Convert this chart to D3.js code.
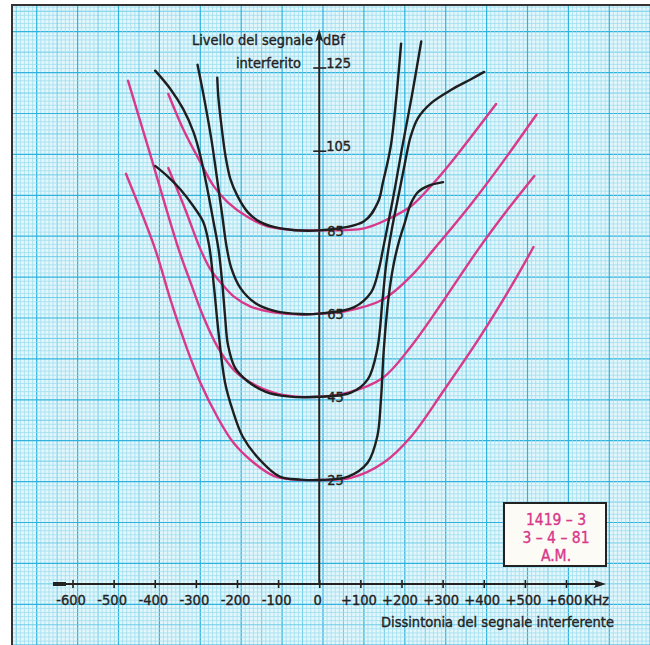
<!DOCTYPE html>
<html>
<head>
<meta charset="utf-8">
<script src="https://cdn.jsdelivr.net/npm/d3@7"></script>
<style>
  body { margin: 0; background: #fff; }
  svg text { font-family: "Liberation Sans Narrow", "DejaVu Sans Condensed", sans-serif; stroke: currentColor; stroke-width: 0.35px; }
</style>
</head>
<body>
<div id="chart"></div>
<script>
// detuning (kHz) / level (dBf)
const xTicks = [-600, -500, -400, -300, -200, -100, 0, 100, 200, 300, 400, 500, 600];
const yLabels = [25, 45, 65, 85];
const yTicked = [105, 125];

// magenta curves
const pink25 = [[-470, 98.6], [-399, 80.5], [-362, 68.4], [-321, 56.4], [-289, 48.4], [-248, 40.2], [-209, 34], [-160, 29.2], [-111, 26], [-62, 25.1], [0, 25], [77, 25.5], [157, 29.2], [223, 35.4], [304, 46.7], [387, 58.8], [467, 71.6], [521, 81]];
const pink45 = [[-465, 121], [-415, 104.6], [-342, 80.5], [-313, 72.5], [-282, 64.3], [-248, 57.1], [-209, 51.6], [-167, 48.4], [-111, 46], [-62, 45.1], [0, 45], [70, 46], [155, 49.6], [223, 57.1], [304, 68.4], [387, 80.5], [455, 89.6], [523, 98.1]];
const pink65 = [[-367, 100], [-326, 90.1], [-289, 80.5], [-265, 75.7], [-240, 72.5], [-209, 69.2], [-167, 66.7], [-111, 65.3], [-45, 64.8], [0, 65], [60, 65.5], [155, 68.4], [223, 74], [279, 80.5], [369, 91.3], [443, 101], [528, 112.8]];
const pink85 = [[-367, 117.8], [-331, 109.4], [-289, 101.4], [-257, 95.7], [-223, 91.8], [-174, 88.2], [-126, 86], [-62, 85.1], [0, 85], [109, 85.5], [167, 87.7], [223, 90.8], [272, 95.7], [321, 101.4], [430, 115.4]];

// black curves
const black25 = [[-399, 100.5], [-370, 98.1], [-338, 94.9], [-306, 90.8], [-282, 87], [-268, 81.5], [-256, 71.5], [-245, 60.5], [-229, 48.4], [-211, 41.9], [-186, 35.4], [-145, 29.9], [-96, 25.8], [-45, 25.1], [0, 25], [70, 25.8], [118, 29.2], [141, 35.4], [150, 44.3], [157, 56.4], [168, 68.4], [180, 76.4], [193, 82], [207, 86.5], [223, 91.5], [240, 94.2], [265, 95.7], [301, 96.6]];
const black45 = [[-399, 123.4], [-362, 119], [-331, 114.2], [-306, 108.7], [-289, 102.9], [-272, 94.9], [-257, 87], [-245, 80.5], [-236, 72.5], [-229, 64.3], [-222, 57.5], [-205, 52], [-175, 48.8], [-130, 46.2], [-77, 45.1], [0, 45], [77, 46], [118, 49.2], [141, 56.4], [154, 68.4], [163, 77], [176, 85], [193, 93.5], [208, 101], [222, 107.5], [240, 112], [272, 115.6], [321, 118.8], [370, 121.4], [401, 123.1]];
const black65 = [[-296, 124.8], [-279, 116.3], [-262, 106.7], [-248, 97.1], [-236, 88.7], [-226, 81.5], [-214, 76], [-192, 71.2], [-155, 67.5], [-107, 65.6], [-46, 64.9], [0, 65], [84, 66.5], [126, 70.1], [145, 75.7], [155, 80.5], [179, 92.5], [201, 104.6], [226, 117.8], [248, 130.4]];
const black85 = [[-248, 121.7], [-245, 116.6], [-236, 108.7], [-228, 102.9], [-216, 97.3], [-199, 93.3], [-174, 89.4], [-143, 87], [-94, 85.5], [0, 85], [109, 87.2], [143, 91.8], [155, 96.6], [174, 105.3], [187, 116.6], [199, 129.9]];

const pinkCurves = [pink25, pink45, pink65, pink85];
const blackCurves = [black25, black45, black65, black85];
const stampLines = ['1419 \u2013 3', '3 \u2013 4 \u2013 81', 'A.M.'];

const width = 650, height = 645;
const ink = '#222', magenta = '#d8398a';

const svg = d3.select('#chart').append('svg')
	.attr('width', width)
	.attr('height', height)
	.style('color', ink);

svg.append('rect').attr('width', width).attr('height', height).attr('fill', '#fff');

// graph paper
const paper = { x: 12, y: 5, w: 660, h: 660 };
svg.append('clipPath').attr('id', 'paper')
	.append('rect').attr('x', paper.x).attr('y', paper.y).attr('width', paper.w).attr('height', paper.h);

const grid = svg.append('g').attr('clip-path', 'url(#paper)');
grid.append('rect')
	.attr('x', paper.x).attr('y', paper.y).attr('width', paper.w).attr('height', paper.h)
	.attr('fill', '#e2f6fb');

const step = 40.9 / 10;
const lineStyle = (i) => (i == 0) ? ['#2fb3de', 1.2] : (i == 5) ? ['#62c8e6', 0.9] : ['#9adcee', 0.7];
for (let i = -10; i < 170; i++) {
	let [c, w] = lineStyle(((i % 10) + 10) % 10);
	let gx = 36.7 + i * step;
	grid.append('line').attr('x1', gx).attr('x2', gx).attr('y1', 0).attr('y2', height)
		.attr('stroke', c).attr('stroke-width', w);
	let gy = 31.7 + i * step;
	grid.append('line').attr('y1', gy).attr('y2', gy).attr('x1', 0).attr('x2', width)
		.attr('stroke', c).attr('stroke-width', w);
}
svg.append('rect')
	.attr('x', paper.x).attr('y', paper.y).attr('width', paper.w).attr('height', paper.h)
	.attr('fill', 'none').attr('stroke', '#333').attr('stroke-width', 2);

// scales
const x = d3.scaleLinear().domain([-600, 600]).range([72.5, 566]);
const y = d3.scaleLinear().domain([0, 125]).range([584, 64]);

const line = d3.line()
	.x((d) => x(d[0]))
	.y((d) => y(d[1]))
	.curve(d3.curveCatmullRom.alpha(0.5));

// x axis
const xAxis = d3.axisBottom(x)
	.tickValues(xTicks)
	.tickSize(4)
	.tickFormat((d) => d > 0 ? '+' + d : d < 0 ? '-' + (-d) : '0');

const gx = svg.append('g')
	.attr('transform', `translate(0, ${y(0)})`)
	.call(xAxis);
gx.select('.domain').remove();
gx.selectAll('.tick line').attr('y1', -4).attr('y2', 4).attr('stroke', ink).attr('stroke-width', 1.6);
gx.selectAll('.tick text')
	.attr('x', -2)
	.attr('y', 11).attr('dy', '0.71em')
	.attr('font-size', 14.5).attr('fill', ink)
	.attr('font-family', '"Liberation Sans Narrow", "DejaVu Sans Condensed", sans-serif');

svg.append('line')
	.attr('x1', 62).attr('x2', 598).attr('y1', y(0)).attr('y2', y(0))
	.attr('stroke', ink).attr('stroke-width', 2);
svg.append('line')
	.attr('x1', 53).attr('x2', 66).attr('y1', y(0)).attr('y2', y(0))
	.attr('stroke', ink).attr('stroke-width', 4);
svg.append('path')
	.attr('d', `M606,${y(0)} L594,${y(0) - 4} L596,${y(0)} L594,${y(0) + 4} Z`)
	.attr('fill', ink);

svg.append('text')
	.attr('x', 584).attr('y', 605)
	.attr('font-size', 14.5).attr('fill', ink)
	.text('KHz');
svg.append('text')
	.attr('x', 614).attr('y', 627)
	.attr('text-anchor', 'end')
	.attr('font-size', 14.5).attr('fill', ink)
	.text('Dissintonia del segnale interferente');

// y axis
svg.append('line')
	.attr('x1', x(0)).attr('x2', x(0)).attr('y1', y(0)).attr('y2', 34)
	.attr('stroke', ink).attr('stroke-width', 2);
svg.append('path')
	.attr('d', `M${x(0)},29 L${x(0) - 4},42 L${x(0)},39 L${x(0) + 4},42 Z`)
	.attr('fill', ink);

svg.append('text')
	.attr('x', 313).attr('y', 45)
	.attr('text-anchor', 'end')
	.attr('font-size', 14.5).attr('fill', ink)
	.text('Livello del segnale');
svg.append('text')
	.attr('x', 323).attr('y', 45)
	.attr('font-size', 14.5).attr('fill', ink)
	.text('dBf');
svg.append('text')
	.attr('x', 301).attr('y', 68)
	.attr('text-anchor', 'end')
	.attr('font-size', 14.5).attr('fill', ink)
	.text('interferito');

yTicked.forEach((v) => {
	svg.append('line')
		.attr('x1', x(0) - 6).attr('x2', x(0) + 7)
		.attr('y1', y(v) + 4).attr('y2', y(v) + 4)
		.attr('stroke', ink).attr('stroke-width', 1.6);
	svg.append('text')
		.attr('x', x(0) + 7).attr('y', y(v) + 4)
		.attr('font-size', 14.5).attr('fill', ink)
		.text(v);
});

// curves
svg.append('g').selectAll('path')
	.data(pinkCurves)
	.enter().append('path')
	.attr('d', line)
	.attr('fill', 'none')
	.attr('stroke', magenta)
	.attr('stroke-width', 2.4)
	.attr('stroke-linecap', 'round');

svg.append('g').selectAll('path')
	.data(blackCurves)
	.enter().append('path')
	.attr('d', line)
	.attr('fill', 'none')
	.attr('stroke', '#1e1e1e')
	.attr('stroke-width', 2.4)
	.attr('stroke-linecap', 'round');

yLabels.forEach((v) => {
	svg.append('text')
		.attr('x', x(0) + 8).attr('y', y(v))
		.attr('dy', '0.36em')
		.attr('font-size', 14.5).attr('fill', ink)
		.text(v);
});

// stamp
svg.append('rect')
	.attr('x', 504).attr('y', 503).attr('width', 102).attr('height', 63)
	.attr('fill', '#fcfbf6').attr('stroke', ink).attr('stroke-width', 2);
svg.append('g').selectAll('text')
	.data(stampLines)
	.enter().append('text')
	.attr('x', 556)
	.attr('y', (d, i) => 525 + i * 18)
	.attr('text-anchor', 'middle')
	.attr('font-size', 15.5)
	.attr('fill', magenta)
	.style('color', magenta)
	.text((d) => d);
</script>
</body>
</html>
